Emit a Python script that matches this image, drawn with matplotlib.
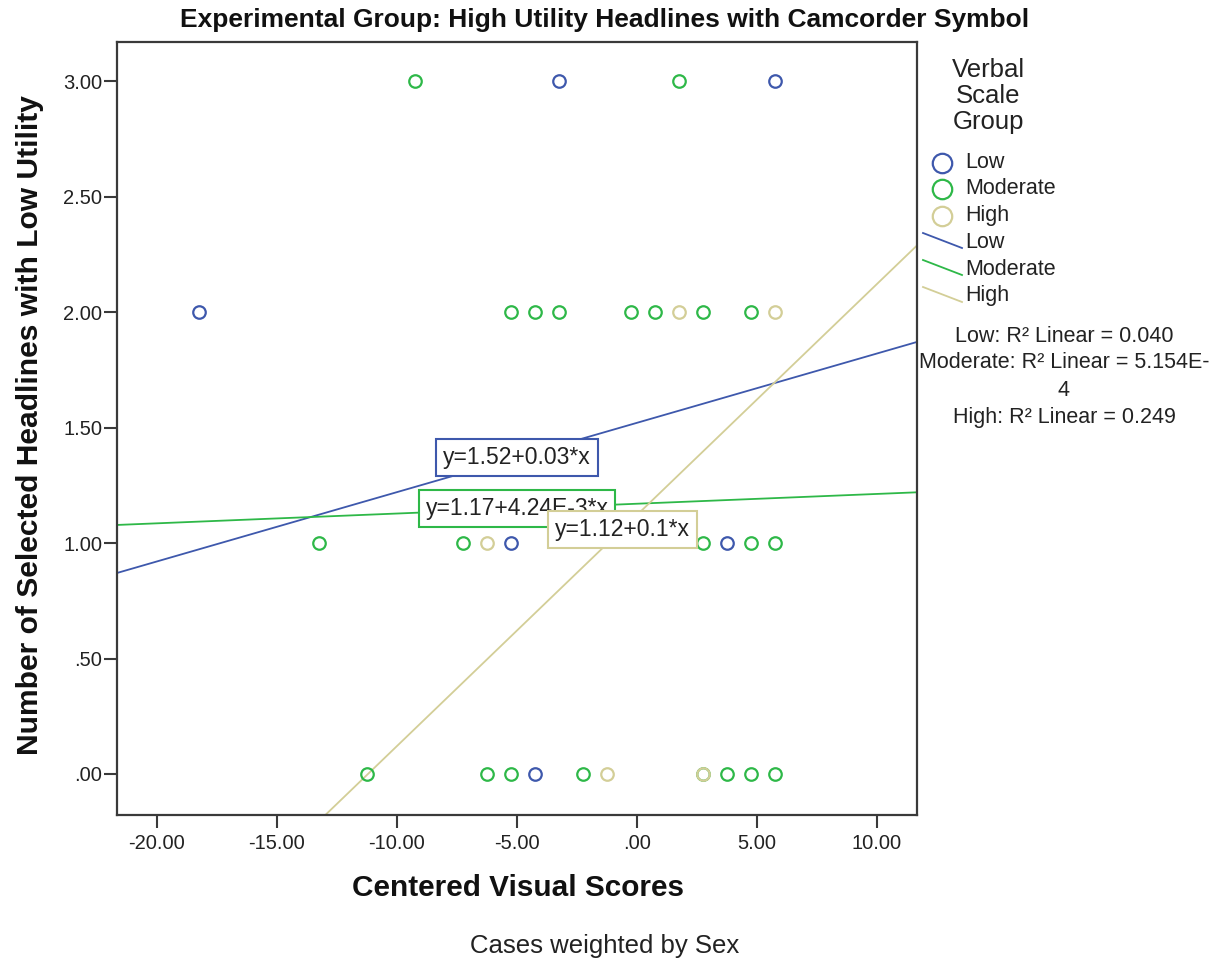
import numpy as np
import matplotlib
matplotlib.use("Agg")
import matplotlib.pyplot as plt
from matplotlib.lines import Line2D

plt.rcParams['font.family'] = ['Liberation Sans', 'DejaVu Sans']

# ---------------- data ----------------
groups = ["Low", "Moderate", "High"]
colors = ["#3E58AC", "#2EB848", "#D3CE97"]

low_x = [-3.24, 5.76, -18.24, -5.24, 3.76, -4.24]
low_y = [3, 3, 2, 1, 1, 0]

mod_x = [-9.24, 1.76,
         -5.24, -4.24, -3.24, -0.24, 0.76, 2.76, 4.76,
         -13.24, -7.24, 2.76, 4.76, 5.76,
         -11.24, -6.24, -5.24, -2.24, 2.76, 3.76, 4.76, 5.76]
mod_y = [3, 3,
         2, 2, 2, 2, 2, 2, 2,
         1, 1, 1, 1, 1,
         0, 0, 0, 0, 0, 0, 0, 0]

high_x = [1.76, 5.76, -6.24, -1.24, 2.76]
high_y = [2, 2, 1, 0, 0]

# fit lines (intercept, slope) as labelled
intercepts = [1.52, 1.17, 1.12]
slopes = [0.03, 4.24e-3, 0.1]
fit_labels = ["y=1.52+0.03*x", "y=1.17+4.24E-3*x", "y=1.12+0.1*x"]
r2_labels = ["Low: R² Linear = 0.040",
             "Moderate: R² Linear = 5.154E-",
             "4",
             "High: R² Linear = 0.249"]

x_ticks = [-20, -15, -10, -5, 0, 5, 10]
y_ticks = [0, 0.5, 1.0, 1.5, 2.0, 2.5, 3.0]

# ---------------- figure ----------------
W, H = 1216, 963
fig = plt.figure(figsize=(W / 100, H / 100), dpi=100)


def fx(px):
    return px / W


def fy(py):
    return 1 - py / H


ax = fig.add_axes([fx(116.7), fy(815), fx(916.7) - fx(116.7), fy(42) - fy(815)])
ax.set_xlim(-21.67, 11.67)
ax.set_ylim(-0.1775, 3.169)

spine_col = "#3a3a3a"
for s in ax.spines.values():
    s.set_color(spine_col)
    s.set_linewidth(1.6)


def fmt(v):
    s = f"{v:.2f}"
    if s.startswith("0."):
        s = s[1:]
    elif s.startswith("-0."):
        s = "-" + s[2:]
    return s


ax.set_xticks(x_ticks)
ax.set_xticklabels([fmt(v) for v in x_ticks])
ax.set_yticks(y_ticks)
ax.set_yticklabels([fmt(v) for v in y_ticks])
ax.tick_params(direction='out', length=9.5, width=1.5, color=spine_col,
               labelsize=14.5, labelcolor="#222222")
ax.tick_params(axis='x', pad=4)
ax.tick_params(axis='y', pad=1)

# fit lines
xs = np.array(ax.get_xlim())
for a, b, c in zip(intercepts, slopes, colors):
    ax.plot(xs, a + b * xs, color=c, lw=1.3, zorder=2, solid_capstyle='butt')

# scatter points
for xv, yv, c in [(low_x, low_y, colors[0]), (mod_x, mod_y, colors[1]),
                  (high_x, high_y, colors[2])]:
    ax.plot(xv, yv, linestyle='none', marker='o', markersize=9,
            markerfacecolor='none', markeredgecolor=c, markeredgewidth=1.6,
            zorder=3)

# fit labels (positions in data coordinates)
label_pos = [(-4.99, 1.37), (-4.99, 1.149), (-0.6, 1.058)]
for i, (lab, (px_, py_), c) in enumerate(zip(fit_labels, label_pos, colors)):
    ax.text(px_, py_, lab, ha='center', va='center', fontsize=16.5, color="#222222",
            zorder=5 + i,
            bbox=dict(boxstyle='square,pad=0.3', fc='white', ec=c, lw=1.5))

# axis labels
fig.text(fx(518), fy(888), "Centered Visual Scores", ha='center', va='center',
         fontsize=21.4, fontweight='bold', color="#111111")
fig.text(fx(30), fy(425), "Number of Selected Headlines with Low Utility",
         ha='center', va='center', rotation=90, fontsize=21.6, fontweight='bold',
         color="#111111")
fig.text(fx(605), fy(20), "Experimental Group: High Utility Headlines with Camcorder Symbol",
         ha='center', va='center', fontsize=19, fontweight='bold', color="#111111")
fig.text(fx(605), fy(946), "Cases weighted by Sex", ha='center', va='center',
         fontsize=18.5, color="#222222")

# legend (manual)
fig.text(fx(988), fy(96), "Verbal\nScale\nGroup", ha='center', va='center',
         fontsize=18.5, color="#222222", linespacing=1.12)
for g, c, y in zip(groups, colors, [163, 189, 216]):
    fig.add_artist(Line2D([fx(942)], [fy(y)], marker='o', markersize=14,
                          markerfacecolor='none', markeredgecolor=c,
                          markeredgewidth=1.6, linestyle='none'))
    fig.text(fx(965), fy(y), g, ha='left', va='center', fontsize=15.5, color="#222222")
for g, c, y in zip(groups, colors, [241, 268, 295]):
    fig.add_artist(Line2D([fx(923), fx(962)], [fy(y - 8), fy(y + 7)], color=c, lw=1.3))
    fig.text(fx(965), fy(y + 1), g, ha='left', va='center', fontsize=15.5, color="#222222")

for lab, y in zip(r2_labels, [337, 363, 391, 417]):
    fig.text(fx(1064), fy(y), lab, ha='center', va='center', fontsize=15.5,
             color="#222222")

fig.savefig("out.png", dpi=100)
